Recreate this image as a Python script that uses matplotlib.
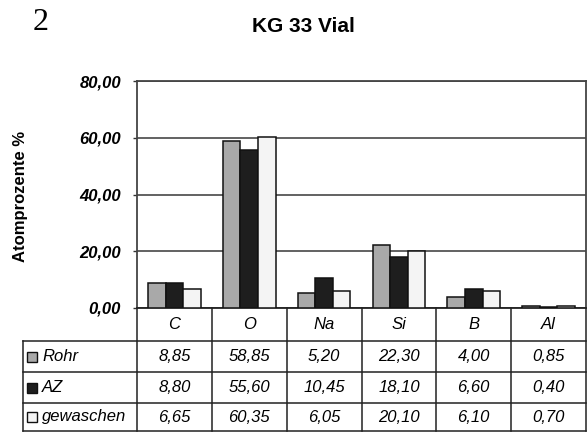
import matplotlib
matplotlib.use("Agg")
import matplotlib.pyplot as plt
import matplotlib.transforms as mtransforms
from matplotlib.patches import Rectangle
from matplotlib.lines import Line2D
from matplotlib.ticker import FuncFormatter, FixedLocator
import numpy as np

plt.rcParams['font.family'] = ['Liberation Sans', 'DejaVu Sans']

# Data
elements = ["C", "O", "Na", "Si", "B", "Al"]
series_names = ["Rohr", "AZ", "gewaschen"]
rohr = [8.85, 58.85, 5.20, 22.30, 4.00, 0.85]
az = [8.80, 55.60, 10.45, 18.10, 6.60, 0.40]
gewaschen = [6.65, 60.35, 6.05, 20.10, 6.10, 0.70]
series_values = [rohr, az, gewaschen]
series_colors = ["#a9a9a9", "#1e1e1e", "#f4f4f4"]
y_ticks = [0, 20, 40, 60, 80]

W, H = 587, 432
fig = plt.figure(figsize=(W / 100, H / 100), dpi=100)


def fy(py):
    return 1 - py / H


def fx(px):
    return px / W


ax_left, ax_right, ax_top, ax_bottom = 137, 586, 81, 308
ax = fig.add_axes([fx(ax_left), fy(ax_bottom), fx(ax_right - ax_left),
                   (ax_bottom - ax_top) / H])

x = np.arange(len(elements))
bw = 0.235
for i, (vals, col) in enumerate(zip(series_values, series_colors)):
    ax.bar(x + (i - 1) * bw, vals, width=bw, color=col, edgecolor="#111111",
           linewidth=1.1, zorder=3)

ax.set_xlim(-0.5, len(elements) - 0.5)
ax.set_ylim(0, 80)
ax.yaxis.set_major_locator(FixedLocator(y_ticks))
ax.yaxis.set_major_formatter(FuncFormatter(lambda v, p: f"{v:.2f}".replace(".", ",")))
ax.tick_params(axis="y", length=3, width=1.0, pad=8.5, labelsize=12,
               color="#333333")
for lab in ax.get_yticklabels():
    lab.set_fontweight("bold")
    lab.set_fontstyle("italic")
ax.set_xticks([])
ax.grid(axis="y", color="#555555", linewidth=1.3, zorder=1)
for side in ["left", "right", "top", "bottom"]:
    ax.spines[side].set_color("#444444")
    ax.spines[side].set_linewidth(1.3)
ax.spines["bottom"].set_color("#222222")

ax.set_ylabel("Atomprozente %", fontsize=12, fontweight="bold")
label_trans = mtransforms.blended_transform_factory(fig.transFigure, ax.transAxes)
ax.yaxis.set_label_coords(fx(28), 0.49, transform=label_trans)

# Title and page number
fig.text(fx(303), fy(27), "KG 33 Vial", fontsize=15, fontweight="bold",
         ha="center", va="center")
fig.text(fx(41), fy(22), "2", fontsize=23, family="Liberation Serif",
         ha="center", va="center")

# Data table below the plot
trans = mtransforms.blended_transform_factory(ax.transData, fig.transFigure)
row_lines = [308, 341, 372, 403, 431]
line_col = "#222222"
table_left = 23

for yl in row_lines[1:]:
    fig.add_artist(Line2D([fx(table_left), fx(ax_right)], [fy(yl), fy(yl)],
                          color=line_col, linewidth=1.1))
for b in np.arange(-0.5, len(elements) + 0.5, 1.0):
    ax.add_artist(Line2D([b, b], [fy(row_lines[0]), fy(row_lines[-1])],
                         transform=trans, color=line_col, linewidth=1.1,
                         clip_on=False))
fig.add_artist(Line2D([fx(table_left), fx(table_left)],
                      [fy(row_lines[1]), fy(row_lines[-1])],
                      color=line_col, linewidth=1.1))

centers = [(row_lines[k] + row_lines[k + 1]) / 2 for k in range(len(row_lines) - 1)]
fs = 12
for j, el in enumerate(elements):
    ax.text(x[j], fy(centers[0]), el, transform=trans, ha="center",
            va="center", fontsize=fs, fontstyle="italic")
for i, (name, vals, col) in enumerate(zip(series_names, series_values, series_colors)):
    cy = centers[i + 1]
    for j, v in enumerate(vals):
        ax.text(x[j], fy(cy), f"{v:.2f}".replace(".", ","), transform=trans,
                ha="center", va="center", fontsize=fs, fontstyle="italic")
    fig.add_artist(Rectangle((fx(27), fy(cy + 5)), 10 / W, 10 / H,
                             facecolor=col, edgecolor="#111111", linewidth=1.0))
    fig.text(fx(42), fy(cy), name, ha="left", va="center", fontsize=fs,
             fontstyle="italic")

fig.savefig("out.png", dpi=100)
